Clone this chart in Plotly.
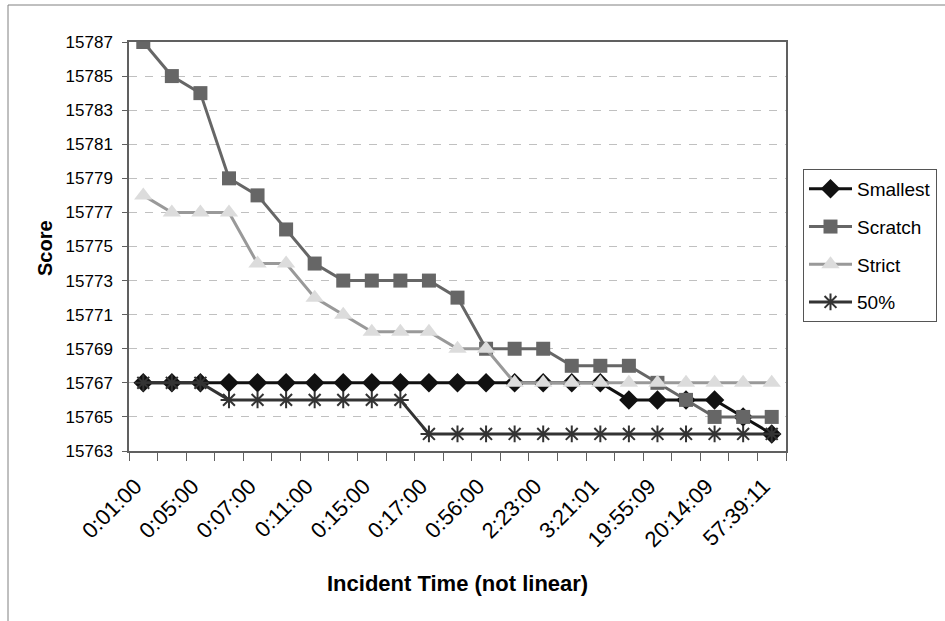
import plotly.graph_objects as go

# ---- data ----
tick_labels = ["0:01:00", "0:05:00", "0:07:00", "0:11:00", "0:15:00", "0:17:00",
               "0:56:00", "2:23:00", "3:21:01", "19:55:09", "20:14:09", "57:39:11"]
n_points = 23
x_idx = list(range(n_points))
tick_idx = list(range(0, n_points, 2))

smallest = [15767] * 17 + [15766, 15766, 15766, 15766, 15765, 15764]
scratch = [15787, 15785, 15784, 15779, 15778, 15776, 15774, 15773, 15773, 15773,
           15773, 15772, 15769, 15769, 15769, 15768, 15768, 15768, 15767, 15766,
           15765, 15765, 15765]
strict = [15778, 15777, 15777, 15777, 15774, 15774, 15772, 15771, 15770, 15770,
          15770, 15769, 15769, 15767, 15767, 15767, 15767, 15767, 15767, 15767,
          15767, 15767, 15767]
fifty = [15767, 15767, 15767, 15766, 15766, 15766, 15766, 15766, 15766, 15766,
         15764, 15764, 15764, 15764, 15764, 15764, 15764, 15764, 15764, 15764,
         15764, 15764, 15764]

FONT = "Arial, 'Liberation Sans', sans-serif"

fig = go.Figure()
series = [
    ("Smallest", smallest, "#111111", "#111111", "diamond", 15, None),
    ("Scratch", scratch, "#666666", "#666666", "square", 14, None),
    ("Strict", strict, "#999999", "#dcdcdc", "triangle-up", 16, None),
    ("50%", fifty, "#333333", "#333333", "asterisk-open", 14, 2),
]
for name, ys, lc, mc, sym, sz, mlw in series:
    marker = dict(symbol=sym, size=sz, color=mc)
    if mlw:
        marker["line"] = dict(color=mc, width=mlw)
    else:
        marker["line"] = dict(width=0)
    fig.add_trace(go.Scatter(
        x=x_idx, y=ys, name=name, legendgroup=name, mode="lines+markers",
        line=dict(color=lc, width=3), marker=marker))

L, R, T, B = 129, 786, 42, 451
W, H = 945, 621
pw, ph = R - L, B - T
label_shift = 0.28  # rotated labels sit slightly left of the category centre

fig.update_layout(
    width=W, height=H,
    margin=dict(l=L, r=W - R, t=T, b=H - B, pad=0, autoexpand=False),
    paper_bgcolor="white", plot_bgcolor="white",
    font=dict(family=FONT, size=16, color="black"),
    showlegend=True,
    legend=dict(xref="container", yref="container", x=803 / W, y=1 - 169 / H,
                xanchor="left", yanchor="top",
                bordercolor="#555555", borderwidth=1, bgcolor="white",
                font=dict(size=19), tracegroupgap=10, itemwidth=43),
)
fig.update_xaxes(
    range=[-0.5, n_points - 0.5], tickmode="array",
    tickvals=[i - label_shift for i in tick_idx], ticktext=tick_labels,
    tickangle=-45, ticks="", showgrid=False, zeroline=False,
    showline=True, mirror=True, linecolor="#606060", linewidth=1.5,
    tickfont=dict(size=22), ticklabelstandoff=12,
    minor=dict(tickmode="array", tickvals=[i - 0.5 for i in range(n_points + 1)],
               ticks="outside", ticklen=8, tickcolor="#606060", tickwidth=1, showgrid=False),
)
fig.update_yaxes(
    range=[15763, 15787], tickmode="linear", tick0=15763, dtick=2, tickformat="d",
    ticks="outside", ticklen=5, tickcolor="#606060", tickwidth=1,
    showgrid=True, gridcolor="#c0c0c0", griddash="8px,8px", gridwidth=1,
    zeroline=False, showline=True, mirror=True, linecolor="#606060", linewidth=1.5,
    tickfont=dict(size=17), ticklabelstandoff=6,
)

fig.add_annotation(text="<b>Score</b>", xref="paper", yref="paper",
                   x=(45 - L) / pw, y=(B - 248) / ph, textangle=-90, showarrow=False,
                   font=dict(size=20), xanchor="center", yanchor="middle")
fig.add_annotation(text="<b>Incident Time (not linear)</b>", xref="paper", yref="paper",
                   x=(457 - L) / pw, y=(B - 583) / ph, showarrow=False,
                   font=dict(size=22), xanchor="center", yanchor="middle")

fig.add_shape(type="rect", xref="paper", yref="paper",
              x0=(8 - L) / pw, x1=(960 - L) / pw, y0=(B - 640) / ph, y1=(B - 5) / ph,
              line=dict(color="#808080", width=1), fillcolor="rgba(0,0,0,0)", layer="below")

fig.write_html("out.html")
